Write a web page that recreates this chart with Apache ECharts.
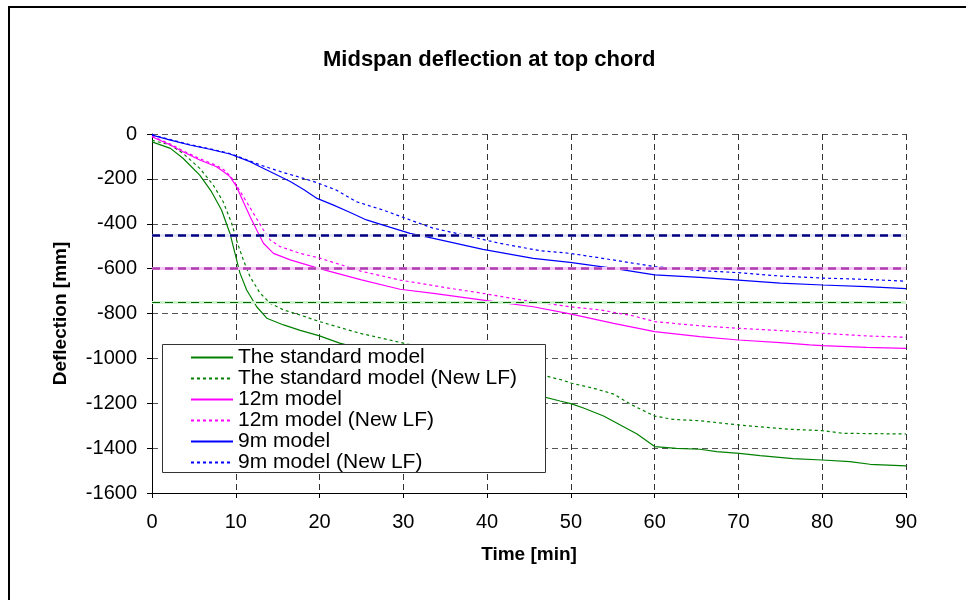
<!DOCTYPE html>
<html>
<head>
<meta charset="utf-8">
<script src="https://cdn.jsdelivr.net/npm/echarts@6/dist/echarts.min.js"></script>
<style>
  html, body { margin: 0; padding: 0; background: #fff; }
  #chart { width: 966px; height: 600px; }
</style>
</head>
<body>
<div id="chart"></div>
<script>
// time [min] / deflection [mm]
var stdT = [0, 2.2, 3.7, 5.7, 7.1, 8.3, 9.3, 9.9, 10.5, 11.3, 12.5, 13.7, 15.7, 17.7, 20, 22.4, 30, 35, 40, 45, 48.7, 50.1, 51.5, 53.9, 55.9, 57.9, 60, 62.6, 65.4, 67.4, 70.1, 72.6, 76.5, 80, 83.3, 85.7, 90];
var stdD = [-35, -64, -108, -183, -257, -339, -442, -531, -620, -695, -770, -821, -851, -875, -900, -932, -1005, -1055, -1105, -1155, -1190, -1203, -1221, -1257, -1297, -1337, -1393, -1401, -1405, -1416, -1423, -1433, -1447, -1453, -1460, -1472, -1479];

var stdNewT = [0, 2.2, 3.7, 5.7, 7.3, 8.5, 9.5, 10.2, 10.9, 11.7, 12.9, 14.1, 15.7, 17.7, 20, 24.8, 30, 35, 40, 45, 48.9, 50.1, 52.7, 55.1, 57.3, 60, 62.2, 65.4, 70.1, 76.2, 80, 82.5, 90];
var stdNewD = [-28, -49, -86, -153, -227, -302, -397, -486, -561, -636, -709, -754, -784, -807, -836, -888, -932, -975, -1020, -1060, -1096, -1111, -1133, -1159, -1208, -1257, -1272, -1278, -1297, -1316, -1322, -1334, -1337];

var m12T = [0, 2.2, 3.7, 5.7, 7.7, 8.8, 9.3, 10.1, 10.9, 11.7, 12.5, 13.3, 14.5, 16.5, 20, 25, 29.6, 33.6, 39.5, 45.5, 49.9, 55.1, 60, 65.4, 70, 75, 78.5, 80, 85.3, 90];
var m12D = [-12, -49, -79, -116, -146, -175, -190, -235, -302, -368, -428, -487, -532, -561, -600, -650, -692, -710, -740, -770, -802, -844, -881, -903, -918, -930, -940, -943, -951, -955];

var m12NewT = [0, 2.2, 3.7, 5.7, 7.7, 8.8, 9.7, 10.9, 12.1, 13.3, 14.1, 15.3, 17.7, 20.1, 25, 29.6, 35.6, 39.5, 43.5, 49.9, 53.5, 57.5, 60, 65.4, 70, 75, 80, 85.3, 90];
var m12NewD = [-10, -45, -75, -110, -140, -165, -205, -279, -353, -428, -472, -502, -532, -554, -612, -651, -688, -710, -736, -770, -784, -811, -836, -855, -866, -876, -888, -900, -906];

var m9T = [0, 2.2, 4.5, 6.9, 9.3, 11.7, 12.9, 14.5, 16.5, 18.1, 19.7, 21.6, 23.6, 25.6, 27.6, 30.8, 33.6, 39.5, 45.5, 49.9, 55.1, 60, 65.4, 70, 75, 80, 85.3, 90];
var m9D = [-5, -27, -49, -68, -89, -123, -146, -175, -212, -247, -287, -316, -349, -383, -406, -443, -465, -514, -554, -572, -599, -628, -639, -651, -665, -673, -680, -689];

var m9NewT = [0, 2.2, 4.5, 6.9, 9.3, 11.7, 12.9, 15.7, 18.1, 19.7, 22, 24.4, 27.6, 30.8, 33.6, 37.2, 41.5, 46.3, 49.9, 54.3, 60, 65.4, 70, 75, 80, 85.3, 90];
var m9NewD = [-3, -25, -47, -66, -87, -120, -138, -172, -198, -217, -250, -302, -339, -383, -420, -450, -487, -520, -532, -557, -591, -609, -618, -633, -642, -648, -656];

// horizontal limit lines
var limitVals = [-450, -600, -750];
var limitColors = ['#000080', '#B03CB0', '#006400'];
var limitHalo = ['#E4E4F8', '#F8C8F8', '#D0F4D0'];
var limitWidths = [2.5, 2.5, 1.2];

var seriesNames = ['The standard model', 'The standard model (New LF)', '12m model', '12m model (New LF)', '9m model', '9m model (New LF)'];

function pairs(t, d) {
  return t.map(function (x, i) { return [x, d[i]]; });
}

var chart = echarts.init(document.getElementById('chart'));
var font = '"Liberation Sans", Arial, sans-serif';
var dotted = [3, 3];

function lineSeries(name, t, d, color, dashed) {
  return {
    name: name,
    type: 'line',
    data: pairs(t, d),
    symbol: 'none',
    smooth: false,
    z: 3,
    lineStyle: { color: color, width: 1.2, type: dashed ? dotted : 'solid' },
    itemStyle: { color: color }
  };
}

var markData = [];
limitVals.forEach(function (v, i) {
  markData.push({ yAxis: v, lineStyle: { color: limitHalo[i], width: 3, type: 'solid' } });
});
limitVals.forEach(function (v, i) {
  markData.push({ yAxis: v, lineStyle: { color: limitColors[i], width: limitWidths[i], type: [8, 5] } });
});

var option = {
  animation: false,
  backgroundColor: '#fff',
  title: {
    text: 'Midspan deflection at top chord',
    left: 318,
    top: 44,
    textStyle: { fontFamily: font, fontSize: 22, fontWeight: 'bold', color: '#000' }
  },
  grid: { left: 152, right: 60, top: 134, bottom: 107 },
  legend: {
    data: seriesNames,
    orient: 'vertical',
    left: 190,
    top: 347,
    padding: 0,
    itemWidth: 42,
    itemHeight: 20,
    itemGap: 0,
    z: 10,
    itemStyle: { opacity: 0 },
    textStyle: { fontFamily: font, fontSize: 21, color: '#000' }
  },
  graphic: [
    {
      type: 'rect',
      z: 8,
      shape: { x: 9, y: 7, width: 1000, height: 700 },
      style: { fill: 'none', stroke: '#000', lineWidth: 2 }
    },
    {
      type: 'rect',
      z: 8,
      shape: { x: 162.5, y: 344.5, width: 383, height: 128 },
      style: { fill: '#fff', stroke: '#333', lineWidth: 1 }
    }
  ],
  xAxis: {
    type: 'value',
    min: 0,
    max: 90,
    interval: 10,
    name: 'Time [min]',
    nameLocation: 'middle',
    nameGap: 52,
    nameTextStyle: { fontFamily: font, fontSize: 19, fontWeight: 'bold', color: '#000' },
    axisLine: { onZero: false, lineStyle: { color: '#000', width: 1 } },
    axisTick: { show: true, inside: false, length: 5, lineStyle: { color: '#000' } },
    axisLabel: { fontFamily: font, fontSize: 20, color: '#000', margin: 19 },
    splitLine: { show: true, lineStyle: { color: '#333', type: [6, 4], width: 1 } }
  },
  yAxis: {
    type: 'value',
    min: -1600,
    max: 0,
    interval: 200,
    name: 'Deflection [mm]',
    nameLocation: 'middle',
    nameGap: 82,
    nameRotate: 90,
    nameTextStyle: { fontFamily: font, fontSize: 19, fontWeight: 'bold', color: '#000' },
    axisLine: { show: true, onZero: false, lineStyle: { color: '#000', width: 1 } },
    axisTick: { show: true, inside: false, length: 5, lineStyle: { color: '#000' } },
    axisLabel: {
      fontFamily: font, fontSize: 20, color: '#000', margin: 15,
      formatter: function (v) { return String(v); }
    },
    splitLine: { show: true, lineStyle: { color: '#555', type: [6, 4], width: 1 } }
  },
  series: [
    {
      name: 'limits',
      type: 'line',
      data: [],
      z: 2,
      markLine: {
        silent: true,
        symbol: 'none',
        label: { show: false },
        animation: false,
        data: markData
      }
    },
    lineSeries(seriesNames[0], stdT, stdD, '#008000', false),
    lineSeries(seriesNames[1], stdNewT, stdNewD, '#008000', true),
    lineSeries(seriesNames[2], m12T, m12D, '#FF00FF', false),
    lineSeries(seriesNames[3], m12NewT, m12NewD, '#FF00FF', true),
    lineSeries(seriesNames[4], m9T, m9D, '#0000FF', false),
    lineSeries(seriesNames[5], m9NewT, m9NewD, '#0000FF', true)
  ]
};

chart.setOption(option);
window.addEventListener('resize', function () {
  chart.resize();
});
</script>
</body>
</html>
